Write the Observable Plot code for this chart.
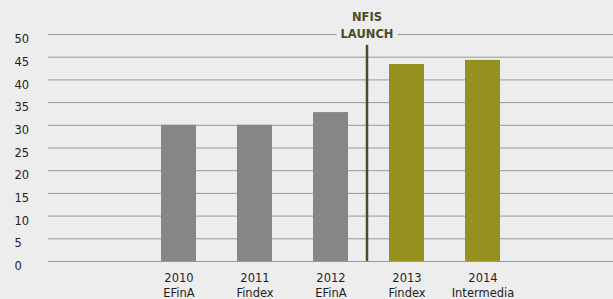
<!DOCTYPE html>
<html>
<head>
<meta charset="utf-8">
<script src="https://cdn.jsdelivr.net/npm/d3@7"></script>
<script src="https://cdn.jsdelivr.net/npm/@observablehq/plot@0.6"></script>
<style>
  html, body { margin: 0; padding: 0; background: #ededed; }
  svg { display: block; }
</style>
</head>
<body>
<div id="chart"></div>
<script>
const years = ["2010", "2011", "2012", "2013", "2014"];
const sources = ["EFinA", "Findex", "EFinA", "Findex", "Intermedia"];
const values = [30, 30, 32.8, 43.4, 44.3];
const phases = ["pre", "pre", "pre", "post", "post"];
const yTicks = [0, 5, 10, 15, 20, 25, 30, 35, 40, 45, 50];
const launchBefore = "2013";
const launchLabel = "NFIS\nLAUNCH";
const launchTop = 47.6;

const data = years.map((y, i) => ({year: y, source: sources[i], value: values[i], phase: phases[i]}));
const sourceOf = Object.fromEntries(data.map(d => [d.year, d.source]));

const font = "DejaVu Sans, sans-serif";

function build(dxLaunch) {
  return Plot.plot({
    width: 613,
    height: 299,
    marginLeft: 48,
    marginRight: 0,
    marginTop: 34,
    marginBottom: 38,
    style: {background: "#ededed", fontFamily: font, color: "#1e1e1e"},
    x: {type: "band", domain: years, paddingInner: 0.54, paddingOuter: 0.27, insetLeft: 92, insetRight: 93, label: null},
    y: {domain: [0, 50], label: null},
    color: {domain: ["pre", "post"], range: ["#868686", "#95911f"]},
    marks: [
      Plot.ruleY(yTicks, {stroke: "#999", strokeWidth: 1}),
      Plot.barY(data, {x: "year", y: "value", fill: "phase"}),
      Plot.ruleX([launchBefore], {x: d => d, y1: 0, y2: launchTop, dx: dxLaunch, stroke: "#4a4c24", strokeWidth: 2.5}),
      Plot.text([launchLabel], {x: () => launchBefore, y: 50, text: d => d, dx: dxLaunch, dy: 3, lineAnchor: "bottom", lineHeight: 1.45, fontSize: 11.5, fontWeight: "bold", fill: "#4a4c24", stroke: "#ededed", strokeWidth: 10, paintOrder: "stroke"}),
      Plot.axisY({ticks: yTicks, tickSize: 0, textAnchor: "start", dx: -25, dy: 5, fontSize: 11.5, label: null}),
      Plot.axisX({tickSize: 0, tickPadding: 9, fontSize: 11.5, lineHeight: 1.35, tickFormat: d => d + "\n" + sourceOf[d], label: null})
    ]
  });
}

const first = build(0);
const xs = first.scale("x");
const step = xs.step ?? (xs.bandwidth / (1 - 0.54));
const chart = build(-step / 2 - 2);
document.getElementById("chart").appendChild(chart);
</script>
</body>
</html>
